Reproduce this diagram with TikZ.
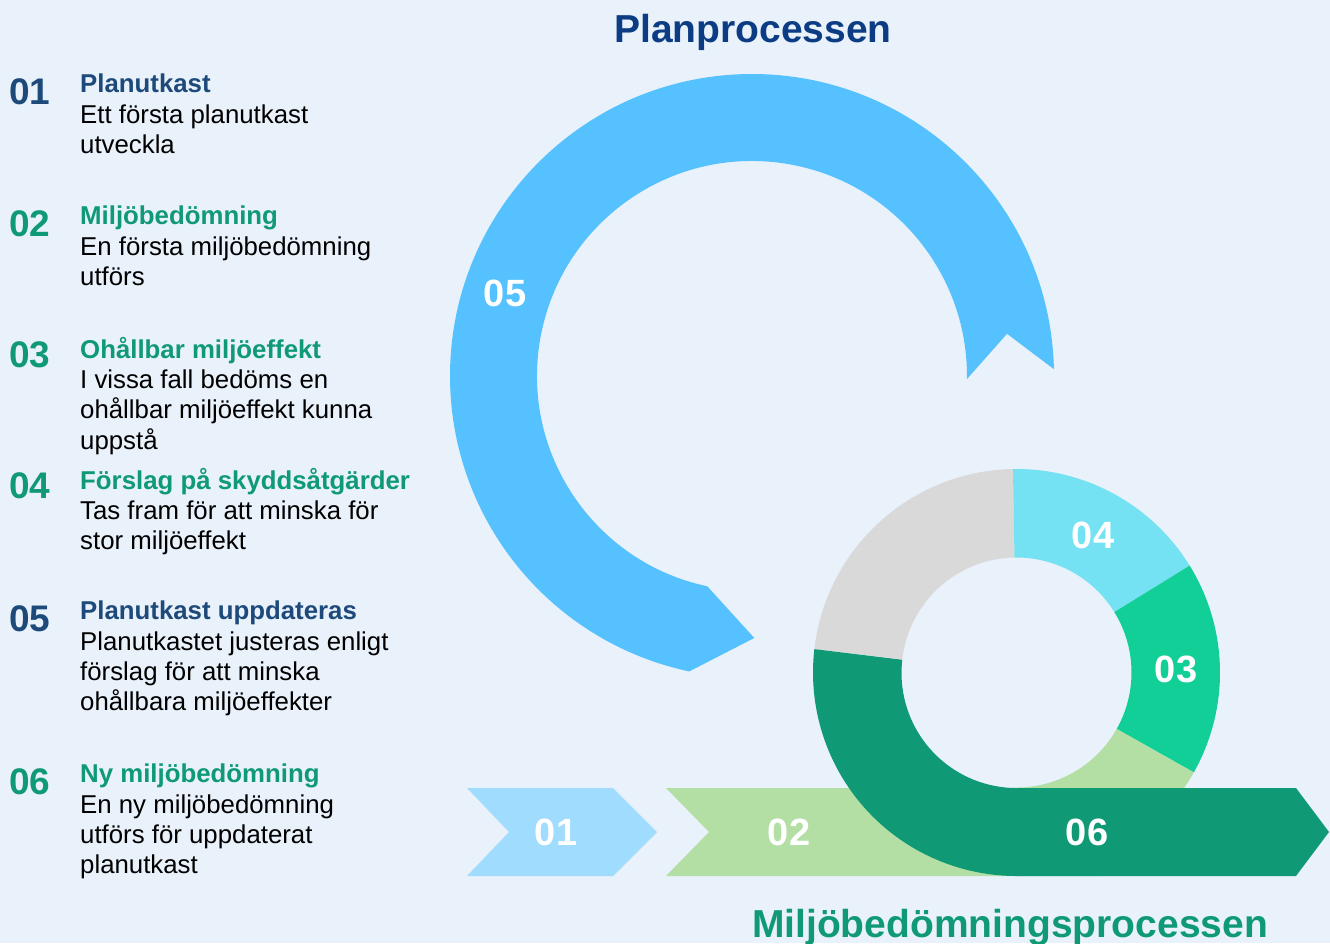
\documentclass[tikz,border=0pt]{standalone}
\usepackage{fontspec}
\setmainfont{Liberation Sans}
\definecolor{bakgrund}{HTML}{E9F1FA}
\definecolor{planbla}{HTML}{55C1FE}
\definecolor{ljusbla}{HTML}{9FDCFD}
\definecolor{ljusgron}{HTML}{B3DFA5}
\definecolor{morkgron}{HTML}{0F9A75}
\definecolor{gron}{HTML}{12CF97}
\definecolor{turkos}{HTML}{74E2F2}
\definecolor{gra}{HTML}{D9D9D9}
\definecolor{marin}{HTML}{0C3C83}
\definecolor{marinljus}{HTML}{1D4A7A}

\begin{document}
\begin{tikzpicture}[x=1pt,y=1pt,
    siffra/.style={text=white,font=\fontsize{38}{40}\selectfont\bfseries,inner sep=0},
    nr/.style={anchor=base west,inner sep=0,font=\fontsize{37}{39}\selectfont\bfseries},
    punkt/.style={anchor=north west,inner sep=0,align=left,font=\fontsize{25.8}{30.2}\selectfont},
    rubrik/.style={anchor=base,inner sep=0,font=\fontsize{39}{41}\selectfont\bfseries}]
    \useasboundingbox (0,0) rectangle (1330,-943);
    \fill[bakgrund] (0,0) rectangle (1330,-943);
    \begin{scope}[shift={(752,-376)}]
        \fill[planbla] (1.3:302) arc[start angle=1.3,end angle=258,radius=302] -- (270.5:262)
            -- (258:215) arc[start angle=258,end angle=-0.8,radius=215] -- (9.4:258.5) -- cycle;
    \end{scope}
    \fill[ljusbla] (467,-788) -- (613,-788) -- (657,-832) -- (613,-876) -- (467,-876) -- (509,-832) -- cycle;
    \fill[ljusgron] (666,-788) -- (1100,-788) -- (1144,-832) -- (1100,-876) -- (666,-876) -- (709,-832) -- cycle;
    \begin{scope}[shift={(1016.5,-672.5)}]
        \fill[gra] (91:203.5) arc[start angle=91,end angle=173.4,radius=203.5]
            -- (173.4:115) arc[start angle=173.4,end angle=91,radius=115] -- cycle;
        \fill[turkos] (31.7:203.5) arc[start angle=31.7,end angle=91,radius=203.5]
            -- (91:115) arc[start angle=91,end angle=31.7,radius=115] -- cycle;
        \fill[gron] (-29.4:203.5) arc[start angle=-29.4,end angle=31.7,radius=203.5]
            -- (31.7:115) arc[start angle=31.7,end angle=-29.4,radius=115] -- cycle;
        \fill[ljusgron] (-90:203.5) arc[start angle=-90,end angle=-29.4,radius=203.5]
            -- (-29.4:115) arc[start angle=-29.4,end angle=-90,radius=115] -- cycle;
        \fill[morkgron] (173.4:203.5) arc[start angle=173.4,end angle=270,radius=203.5]
            -- (279.5,-203.5) -- (312.5,-159.5) -- (279.5,-115.5) -- (0,-115.5)
            arc[start angle=270,end angle=173.4,radius=115] -- cycle;
    \end{scope}
    \node[siffra] (s05) at (505,-293) {05};
    \node[siffra] (s01) at (556,-832) {01};
    \node[siffra] (s02) at (789,-832) {02};
    \node[siffra] (s06) at (1087,-832) {06};
    \node[siffra] (s04) at (1093,-535) {04};
    \node[siffra] (s03) at (1176,-669) {03};
    \node[rubrik,text=marin] (plan) at (753,-42) {Planprocessen};
    \node[rubrik,text=morkgron] (miljo) at (1010,-937) {Miljöbedömningsprocessen};
    \node[nr,text=marinljus] (nr1) at (9,-104) {01};
    \node[punkt] (p1) at (80,-74) {{\bfseries\color{marinljus}Planutkast}\\Ett första planutkast\\utveckla};
    \node[nr,text=morkgron] (nr2) at (9,-236) {02};
    \node[punkt] (p2) at (80,-206) {{\bfseries\color{morkgron}Miljöbedömning}\\En första miljöbedömning\\utförs};
    \node[nr,text=morkgron] (nr3) at (9,-367) {03};
    \node[punkt] (p3) at (80,-337) {{\bfseries\color{morkgron}Ohållbar miljöeffekt}\\I vissa fall bedöms en\\ohållbar miljöeffekt kunna\\uppstå};
    \node[nr,text=morkgron] (nr4) at (9,-498) {04};
    \node[punkt] (p4) at (80,-468) {{\bfseries\color{morkgron}Förslag på skyddsåtgärder}\\Tas fram för att minska för\\stor miljöeffekt};
    \node[nr,text=marinljus] (nr5) at (9,-631) {05};
    \node[punkt] (p5) at (80,-601) {{\bfseries\color{marinljus}Planutkast uppdateras}\\Planutkastet justeras enligt\\förslag för att minska\\ohållbara miljöeffekter};
    \node[nr,text=morkgron] (nr6) at (9,-794) {06};
    \node[punkt] (p6) at (80,-764) {{\bfseries\color{morkgron}Ny miljöbedömning}\\En ny miljöbedömning\\utförs för uppdaterat\\planutkast};
\end{tikzpicture}
\end{document}
